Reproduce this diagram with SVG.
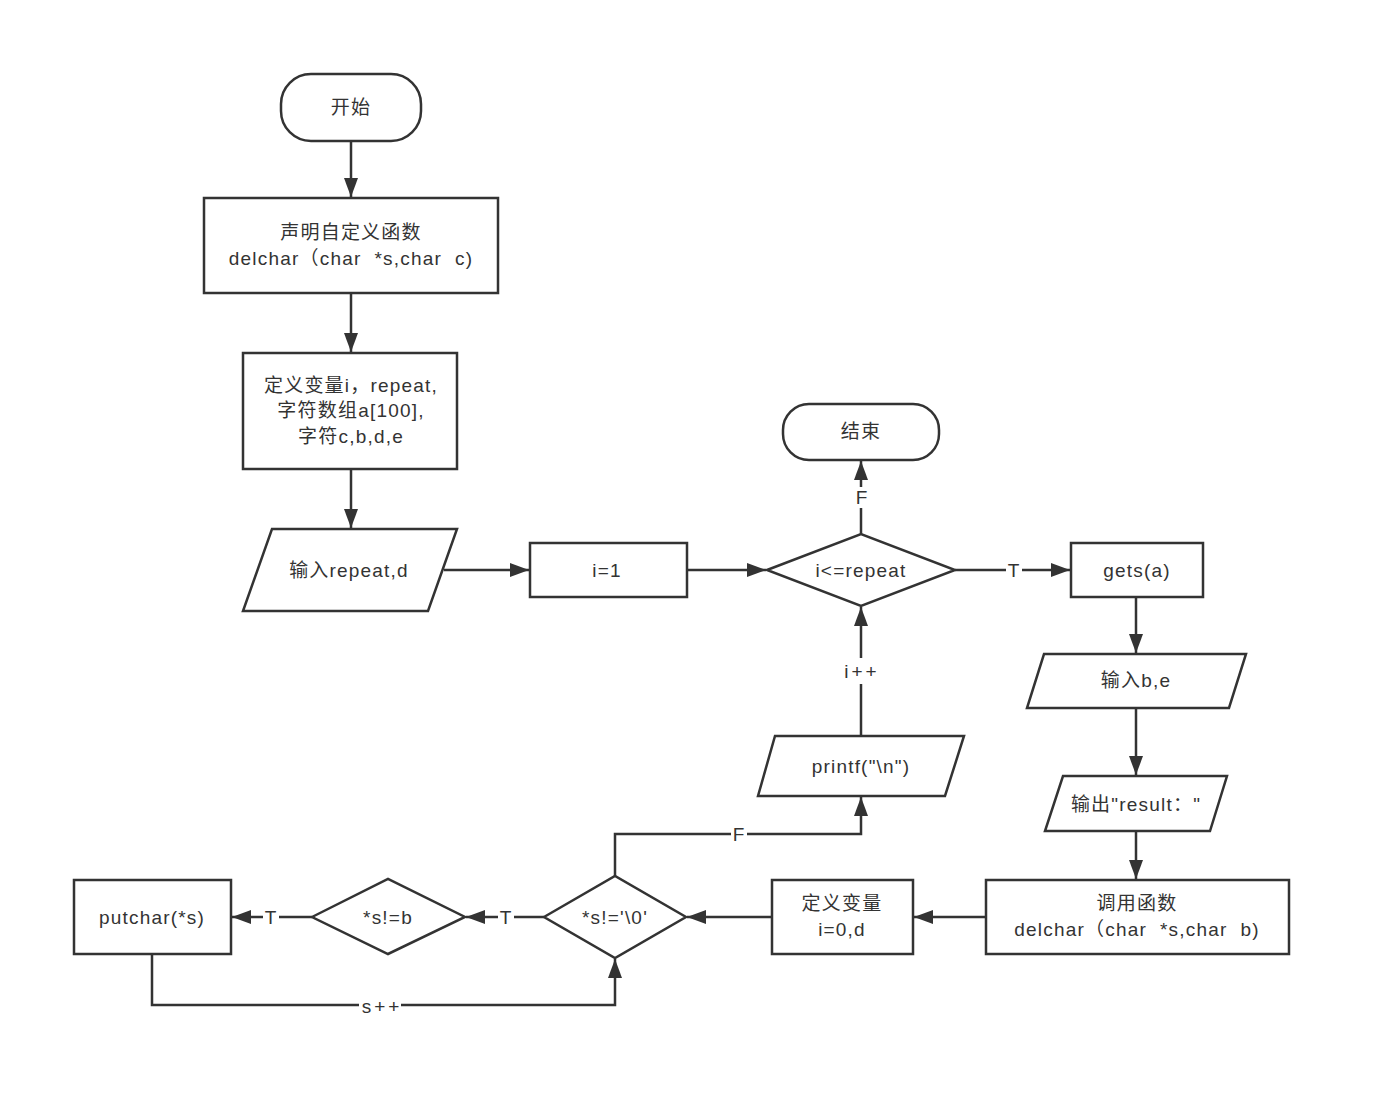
<svg xmlns="http://www.w3.org/2000/svg" width="1384" height="1103" viewBox="0 0 1384 1103">
<defs>
<marker id="arr" markerUnits="userSpaceOnUse" markerWidth="20" markerHeight="16" refX="19" refY="8" orient="auto">
<path d="M0,1 L19,8 L0,15 z" fill="#333"/>
</marker>
<style>
.s{fill:#fff;stroke:#333;stroke-width:2.5}
.t{font-family:"Liberation Sans","Noto Sans CJK SC",sans-serif;font-size:19px;letter-spacing:1.2px;fill:#333;text-anchor:middle;dominant-baseline:central;white-space:pre}
.c{fill:none;stroke:#333;stroke-width:2.5}
.bg{fill:#fff}
.l{font-family:"Liberation Sans","Noto Sans CJK SC",sans-serif;font-size:19px;letter-spacing:3px;fill:#333;text-anchor:middle;dominant-baseline:central}
</style>
</defs>
<rect width="1384" height="1103" fill="#fff"/>
<g id="connectors">
<path class="c" d="M351,141 V197" marker-end="url(#arr)"/>
<path class="c" d="M351,293 V352" marker-end="url(#arr)"/>
<path class="c" d="M351,469 V528" marker-end="url(#arr)"/>
<path class="c" d="M444,570 H529" marker-end="url(#arr)"/>
<path class="c" d="M687,570 H766" marker-end="url(#arr)"/>
<path class="c" d="M861,534 V461" marker-end="url(#arr)"/>
<rect class="bg" x="853" y="487" width="17" height="21"/>
<text class="l" x="863" y="497">F</text>
<path class="c" d="M955,570 H1070" marker-end="url(#arr)"/>
<rect class="bg" x="1006" y="560" width="16" height="20"/>
<text class="l" x="1015" y="570">T</text>
<path class="c" d="M1136,597 V653" marker-end="url(#arr)"/>
<path class="c" d="M1136,708 V775" marker-end="url(#arr)"/>
<path class="c" d="M1136,831 V879" marker-end="url(#arr)"/>
<path class="c" d="M986,917 H914" marker-end="url(#arr)"/>
<path class="c" d="M772,917 H687" marker-end="url(#arr)"/>
<path class="c" d="M544,917 H466" marker-end="url(#arr)"/>
<rect class="bg" x="498" y="907" width="16" height="20"/>
<text class="l" x="507" y="917">T</text>
<path class="c" d="M312,917 H232" marker-end="url(#arr)"/>
<rect class="bg" x="263" y="907" width="16" height="20"/>
<text class="l" x="272" y="917">T</text>
<path class="c" d="M152,954 V1005 H615 V959" marker-end="url(#arr)"/>
<rect class="bg" x="359" y="996" width="42" height="20"/>
<text class="l" x="382" y="1006">s++</text>
<path class="c" d="M615,876 V834 H861 V797" marker-end="url(#arr)"/>
<rect class="bg" x="731" y="824" width="16" height="20"/>
<text class="l" x="740" y="834">F</text>
<path class="c" d="M861,736 V607" marker-end="url(#arr)"/>
<rect class="bg" x="840" y="658" width="42" height="26"/>
<text class="l" x="862" y="671">i++</text>
</g>
<g id="start">
<rect class="s" x="281" y="74" width="140" height="67" rx="30"/>
<text class="t" x="351" y="107">开始</text>
</g>
<g id="declare">
<rect class="s" x="204" y="198" width="294" height="95"/>
<text class="t" x="351" y="232">声明自定义函数</text>
<text class="t" x="351" y="258">delchar（char  *s,char  c)</text>
</g>
<g id="vars">
<rect class="s" x="243" y="353" width="214" height="116"/>
<text class="t" x="351" y="385">定义变量i，repeat,</text>
<text class="t" x="351" y="410">字符数组a[100],</text>
<text class="t" x="351" y="436">字符c,b,d,e</text>
</g>
<g id="input1">
<path class="s" d="M272,529 H457 L428,611 H243 Z"/>
<text class="t" x="349" y="570">输入repeat,d</text>
</g>
<g id="init">
<rect class="s" x="530" y="543" width="157" height="54"/>
<text class="t" x="607" y="570">i=1</text>
</g>
<g id="cond1">
<path class="s" d="M767,570 L861,534 L955,570 L861,606 Z"/>
<text class="t" x="861" y="570">i&lt;=repeat</text>
</g>
<g id="end">
<rect class="s" x="783" y="404" width="156" height="56" rx="26"/>
<text class="t" x="861" y="431">结束</text>
</g>
<g id="gets">
<rect class="s" x="1071" y="543" width="132" height="54"/>
<text class="t" x="1137" y="570">gets(a)</text>
</g>
<g id="input2">
<path class="s" d="M1044,654 H1246 L1229,708 H1027 Z"/>
<text class="t" x="1136" y="680">输入b,e</text>
</g>
<g id="output">
<path class="s" d="M1063,776 H1227 L1210,831 H1045 Z"/>
<text class="t" x="1136" y="804">输出"result："</text>
</g>
<g id="call">
<rect class="s" x="986" y="880" width="303" height="74"/>
<text class="t" x="1137" y="903">调用函数</text>
<text class="t" x="1137" y="929">delchar（char  *s,char  b)</text>
</g>
<g id="define">
<rect class="s" x="772" y="880" width="141" height="74"/>
<text class="t" x="842" y="903">定义变量</text>
<text class="t" x="842" y="929">i=0,d</text>
</g>
<g id="cond2">
<path class="s" d="M544,917 L615,876 L686,917 L615,958 Z"/>
<text class="t" x="615" y="917">*s!='\0'</text>
</g>
<g id="cond3">
<path class="s" d="M312,917 L388,879 L465,917 L388,954 Z"/>
<text class="t" x="388" y="917">*s!=b</text>
</g>
<g id="putchar">
<rect class="s" x="74" y="880" width="157" height="74"/>
<text class="t" x="152" y="917">putchar(*s)</text>
</g>
<g id="printf">
<path class="s" d="M775,736 H964 L945,796 H758 Z"/>
<text class="t" x="861" y="766">printf("\n")</text>
</g>
</svg>
